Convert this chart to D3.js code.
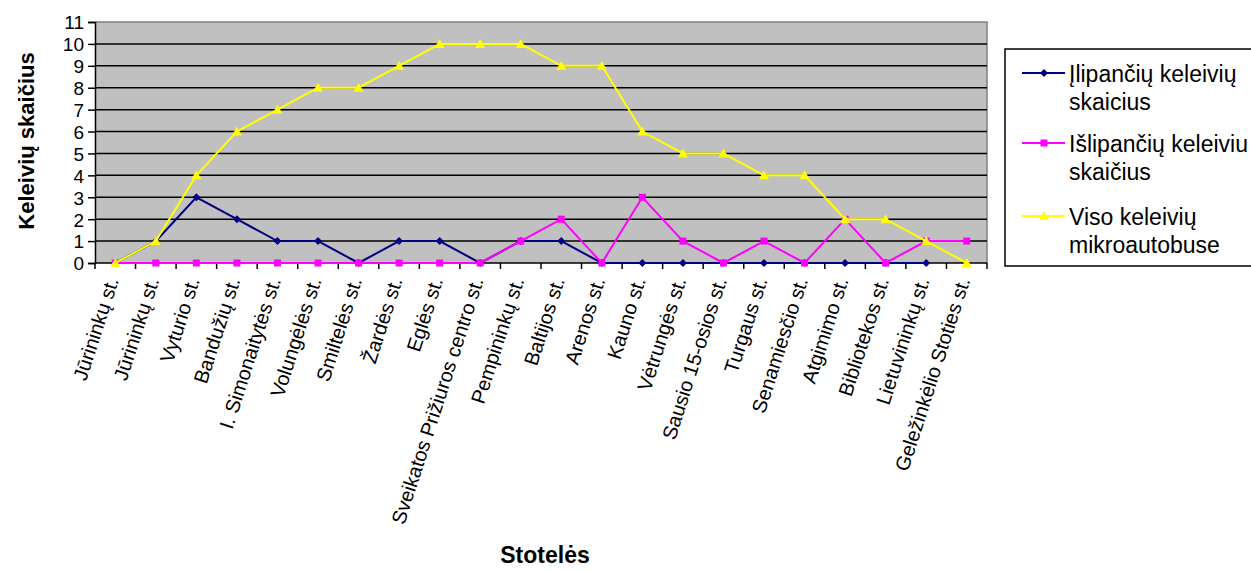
<!DOCTYPE html>
<html><head><meta charset="utf-8">
<script src="https://cdn.jsdelivr.net/npm/d3@7"></script>
<style>body{margin:0;background:#fff}svg{display:block;font-family:"Liberation Sans",Arial,sans-serif}</style>
</head><body><svg id="c" width="1251" height="570"></svg>
<script>
const categories = ["Jūrininkų st.","Jūrininkų st.","Vyturio st.","Bandužių st.","I. Simonaitytės st.","Volungėlės st.","Smiltelės st.","Žardės st.","Eglės st.","Sveikatos Prižiuros centro st.","Pempininkų st.","Baltijos st.","Arenos st.","Kauno st.","Vėtrungės st.","Sausio 15-osios st.","Turgaus st.","Senamiesčio st.","Atgimimo st.","Bibliotekos st.","Lietuvininkų st.","Geležinkėlio Stoties st."];
const ilipanciu = [0,1,3,2,1,1,0,1,1,0,1,1,0,0,0,0,0,0,0,0,0,null];
const islipanciu = [0,0,0,0,0,0,0,0,0,0,1,2,0,3,1,0,1,0,2,0,1,1];
const viso = [0,1,4,6,7,8,8,9,10,10,10,9,9,6,5,5,4,4,2,2,1,0];
const yTicks = [0,1,2,3,4,5,6,7,8,9,10,11];
const seriesNames = [["Įlipančių keleivių","skaicius"],["Išlipančių keleiviu","skaičius"],["Viso keleivių","mikroautobuse"]];

const svg = d3.select("#c");
const L=95, R=987, T=22, B=263;
const idx = categories.map((d,i)=>i);
const xb = d3.scaleBand().domain(idx).range([L,R]);
const xc = i => xb(i)+xb.bandwidth()/2;
const y = d3.scaleLinear().domain([0,11]).range([B,T]);

svg.append("rect").attr("x",L).attr("y",T).attr("width",R-L).attr("height",B-T).attr("fill","#c0c0c0");
svg.append("path").attr("d",`M${L},${T}H${R}V${B}`).attr("fill","none").attr("stroke","#808080").attr("stroke-width",1.5);
svg.append("g").selectAll("line").data(yTicks.filter(d=>d>0&&d<11)).join("line")
  .attr("x1",L).attr("x2",R).attr("y1",d=>y(d)).attr("y2",d=>y(d)).attr("stroke","#000").attr("stroke-width",1.5);

// y axis
const ya = svg.append("g").attr("transform",`translate(${L},0)`)
  .call(d3.axisLeft(y).tickValues(yTicks).tickSize(7).tickPadding(4).tickFormat(d3.format("d")));
ya.select(".domain").attr("stroke","#000").attr("stroke-width",1.5);
ya.selectAll(".tick line").attr("stroke","#000").attr("stroke-width",1.5);
ya.selectAll("text").attr("font-size",19).attr("fill","#000").attr("font-family","Liberation Sans, Arial").attr("dy","0.36em");

// x axis
const xa = svg.append("g").attr("transform",`translate(0,${B})`);
xa.append("line").attr("x1",L).attr("x2",R).attr("stroke","#000").attr("stroke-width",1.5);
xa.selectAll("line.t").data(d3.range(categories.length+1)).join("line").attr("class","t")
  .attr("x1",i=>L+i*xb.step()).attr("x2",i=>L+i*xb.step()).attr("y1",0).attr("y2",6).attr("stroke","#000").attr("stroke-width",1.5);
xa.selectAll("text").data(idx).join("text")
  .attr("transform",i=>`translate(${xc(i)-3},15) rotate(-72)`)
  .attr("text-anchor","end").attr("dy","0.35em").attr("font-size",20).attr("fill","#000")
  .text(i=>categories[i]);

// lines
const line = d3.line().defined(d=>d!=null).x((d,i)=>xc(i)).y(d=>y(d));
const series = [
  {v:ilipanciu,c:"#000080",m:"diamond"},
  {v:islipanciu,c:"#ff00ff",m:"square"},
  {v:viso,c:"#ffff00",m:"triangle"}];
function marker(g,type,color,cx,cy){
  if(type==="diamond") g.append("path").attr("d",`M${cx},${cy-4}L${cx+4},${cy}L${cx},${cy+4}L${cx-4},${cy}Z`).attr("fill",color);
  else if(type==="square") g.append("rect").attr("x",cx-3.5).attr("y",cy-3.5).attr("width",7).attr("height",7).attr("fill",color);
  else g.append("path").attr("d",`M${cx},${cy-5}L${cx+5},${cy+4}L${cx-5},${cy+4}Z`).attr("fill",color);
}
series.forEach(s=>{
  svg.append("path").datum(s.v).attr("d",line).attr("fill","none").attr("stroke",s.c).attr("stroke-width",2);
  const g = svg.append("g");
  s.v.forEach((d,i)=>{ if(d!=null) marker(g,s.m,s.c,xc(i),y(d)); });
});

// axis titles
svg.append("text").attr("transform","translate(34,141) rotate(-90)").attr("text-anchor","middle")
  .attr("font-size",22).attr("font-weight","bold").text("Keleivių skaičius");
svg.append("text").attr("x",545).attr("y",563).attr("text-anchor","middle")
  .attr("font-size",23).attr("font-weight","bold").text("Stotelės");

// legend
svg.append("rect").attr("x",1005).attr("y",49).attr("width",260).attr("height",217).attr("fill","#fff").attr("stroke","#000").attr("stroke-width",1.5);
const ly=[73,143,216];
series.forEach((s,k)=>{
  const g=svg.append("g");
  g.append("line").attr("x1",1022).attr("x2",1065).attr("y1",ly[k]).attr("y2",ly[k]).attr("stroke",s.c).attr("stroke-width",2);
  marker(g,s.m,s.c,1044,ly[k]);
  g.append("text").attr("x",1069).attr("y",ly[k]+9).attr("font-size",23).text(seriesNames[k][0]);
  g.append("text").attr("x",1069).attr("y",ly[k]+37).attr("font-size",23).text(seriesNames[k][1]);
});
</script></body></html>
